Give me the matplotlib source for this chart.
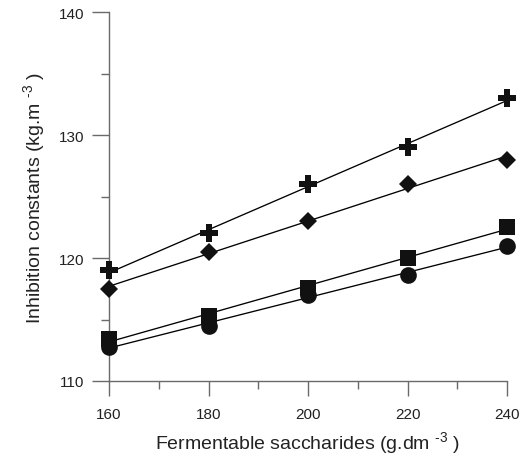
import numpy as np
import matplotlib
matplotlib.use("Agg")
import matplotlib.pyplot as plt
from matplotlib.ticker import FixedLocator

plt.rcParams['font.family'] = ['Liberation Sans', 'DejaVu Sans']
plt.rcParams['mathtext.fontset'] = 'custom'
plt.rcParams['mathtext.rm'] = 'Liberation Sans'
plt.rcParams['mathtext.it'] = 'Liberation Sans:italic'
plt.rcParams['mathtext.bf'] = 'Liberation Sans:bold'

# Data
saccharides = [160, 180, 200, 220, 240]
plus_vals = [119.0, 122.0, 126.0, 129.0, 133.0]
diamond_vals = [117.5, 120.5, 123.0, 126.0, 128.0]
square_vals = [113.4, 115.3, 117.6, 120.0, 122.5]
circle_vals = [112.8, 114.5, 117.0, 118.6, 121.0]
x_ticks = [160, 180, 200, 220, 240]
y_ticks = [110, 120, 130, 140]

series = [
    (plus_vals, 'P', 13),
    (diamond_vals, 'D', 9.2),
    (square_vals, 's', 11.5),
    (circle_vals, 'o', 12),
]

fig = plt.figure(figsize=(5.28, 4.6), dpi=100)
ax = fig.add_axes([109/528, 1-382/460, 398/528, 369/460])

x = np.array(saccharides, dtype=float)
mark_color = '#111111'
for vals, m, ms in series:
    y = np.array(vals)
    k, b = np.polyfit(x, y, 1)
    xs = np.array([x.min(), x.max()])
    ax.plot(xs, k*xs + b, color='black', lw=0.95, zorder=2)
    ax.plot(x, y, linestyle='none', marker=m, markersize=ms,
            color=mark_color, markeredgewidth=0, zorder=3, clip_on=False)

ax.set_xlim(160, 240)
ax.set_ylim(110, 140)
ax.xaxis.set_major_locator(FixedLocator(x_ticks))
ax.xaxis.set_minor_locator(FixedLocator([170, 190, 210, 230]))
ax.yaxis.set_major_locator(FixedLocator(y_ticks))
ax.yaxis.set_minor_locator(FixedLocator([115, 125, 135]))

spine_c = '#6a6a6a'
for s in ['top', 'right']:
    ax.spines[s].set_visible(False)
for s in ['left', 'bottom']:
    ax.spines[s].set_color(spine_c)
    ax.spines[s].set_linewidth(1.0)

ax.tick_params(axis='both', which='major', direction='out', color=spine_c,
               width=1.0, labelsize=11, labelcolor='#222222')
ax.tick_params(axis='y', which='major', length=12.5, pad=5)
ax.tick_params(axis='y', which='minor', length=6, width=1.0, color=spine_c)
ax.tick_params(axis='x', which='major', length=10.5, pad=8)
ax.tick_params(axis='x', which='minor', length=5.5, width=1.0, color=spine_c)

ax.set_xlabel(r'Fermentable saccharides (g.dm $^{\text{-3}}$ )', fontsize=14,
              color='#222222', labelpad=6)
ax.set_ylabel(r'Inhibition constants (kg.m $^{\text{-3}}$ )', fontsize=14,
              color='#222222', labelpad=9)

fig.savefig('out.png', dpi=100)
